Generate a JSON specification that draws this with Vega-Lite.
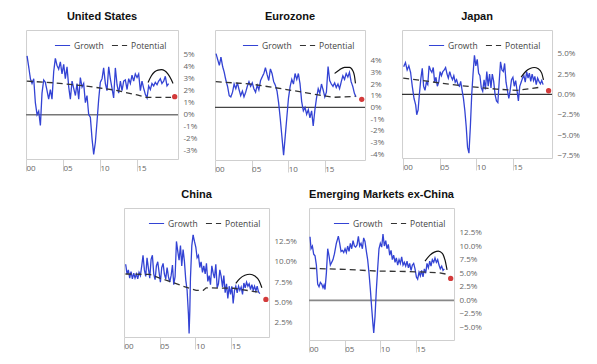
{
"$schema":"https://vega.github.io/schema/vega-lite/v6.json",
"padding":{"left":23,"top":10,"right":0,"bottom":0},
"background":"white",
"datasets":{"d":[
{"p":"US","s":"Growth","t":2000.14,"v":4.9},{"p":"US","s":"Growth","t":2000.36,"v":4.0},{"p":"US","s":"Growth","t":2000.59,"v":3.0},{"p":"US","s":"Growth","t":2000.81,"v":2.6},{"p":"US","s":"Growth","t":2001.04,"v":3.0},{"p":"US","s":"Growth","t":2001.26,"v":1.0},{"p":"US","s":"Growth","t":2001.49,"v":0.0},{"p":"US","s":"Growth","t":2001.71,"v":0.3},{"p":"US","s":"Growth","t":2001.94,"v":-0.9},{"p":"US","s":"Growth","t":2002.16,"v":1.8},{"p":"US","s":"Growth","t":2002.39,"v":2.9},{"p":"US","s":"Growth","t":2002.61,"v":2.7},{"p":"US","s":"Growth","t":2002.84,"v":2.0},{"p":"US","s":"Growth","t":2003.06,"v":1.3},{"p":"US","s":"Growth","t":2003.29,"v":2.1},{"p":"US","s":"Growth","t":2003.51,"v":1.3},{"p":"US","s":"Growth","t":2003.74,"v":3.6},{"p":"US","s":"Growth","t":2003.96,"v":4.7},{"p":"US","s":"Growth","t":2004.19,"v":4.1},{"p":"US","s":"Growth","t":2004.41,"v":3.8},{"p":"US","s":"Growth","t":2004.64,"v":4.4},{"p":"US","s":"Growth","t":2004.86,"v":3.4},{"p":"US","s":"Growth","t":2005.09,"v":4.2},{"p":"US","s":"Growth","t":2005.31,"v":3.0},{"p":"US","s":"Growth","t":2005.54,"v":4.0},{"p":"US","s":"Growth","t":2005.77,"v":2.3},{"p":"US","s":"Growth","t":2005.99,"v":1.3},{"p":"US","s":"Growth","t":2006.22,"v":2.8},{"p":"US","s":"Growth","t":2006.44,"v":2.2},{"p":"US","s":"Growth","t":2006.67,"v":1.6},{"p":"US","s":"Growth","t":2006.89,"v":2.6},{"p":"US","s":"Growth","t":2007.12,"v":1.3},{"p":"US","s":"Growth","t":2007.34,"v":3.1},{"p":"US","s":"Growth","t":2007.57,"v":2.3},{"p":"US","s":"Growth","t":2007.79,"v":2.6},{"p":"US","s":"Growth","t":2008.02,"v":1.0},{"p":"US","s":"Growth","t":2008.24,"v":1.6},{"p":"US","s":"Growth","t":2008.47,"v":0.0},{"p":"US","s":"Growth","t":2008.69,"v":-0.2},{"p":"US","s":"Growth","t":2008.92,"v":-2.0},{"p":"US","s":"Growth","t":2009.14,"v":-3.3},{"p":"US","s":"Growth","t":2009.37,"v":-2.3},{"p":"US","s":"Growth","t":2009.59,"v":-0.6},{"p":"US","s":"Growth","t":2009.82,"v":1.3},{"p":"US","s":"Growth","t":2010.04,"v":2.7},{"p":"US","s":"Growth","t":2010.27,"v":3.0},{"p":"US","s":"Growth","t":2010.49,"v":3.9},{"p":"US","s":"Growth","t":2010.72,"v":2.6},{"p":"US","s":"Growth","t":2010.94,"v":2.0},{"p":"US","s":"Growth","t":2011.17,"v":4.0},{"p":"US","s":"Growth","t":2011.39,"v":3.0},{"p":"US","s":"Growth","t":2011.62,"v":2.2},{"p":"US","s":"Growth","t":2011.84,"v":1.4},{"p":"US","s":"Growth","t":2012.07,"v":3.9},{"p":"US","s":"Growth","t":2012.30,"v":2.5},{"p":"US","s":"Growth","t":2012.52,"v":1.8},{"p":"US","s":"Growth","t":2012.75,"v":2.8},{"p":"US","s":"Growth","t":2012.97,"v":2.0},{"p":"US","s":"Growth","t":2013.20,"v":2.8},{"p":"US","s":"Growth","t":2013.42,"v":2.9},{"p":"US","s":"Growth","t":2013.65,"v":2.1},{"p":"US","s":"Growth","t":2013.87,"v":3.0},{"p":"US","s":"Growth","t":2014.10,"v":2.6},{"p":"US","s":"Growth","t":2014.32,"v":3.3},{"p":"US","s":"Growth","t":2014.55,"v":2.8},{"p":"US","s":"Growth","t":2014.77,"v":3.4},{"p":"US","s":"Growth","t":2015.00,"v":3.1},{"p":"US","s":"Growth","t":2015.22,"v":3.4},{"p":"US","s":"Growth","t":2015.45,"v":2.0},{"p":"US","s":"Growth","t":2015.67,"v":2.8},{"p":"US","s":"Growth","t":2015.90,"v":2.2},{"p":"US","s":"Growth","t":2016.12,"v":1.7},{"p":"US","s":"Growth","t":2016.35,"v":1.4},{"p":"US","s":"Growth","t":2016.57,"v":2.4},{"p":"US","s":"Growth","t":2016.80,"v":2.1},{"p":"US","s":"Growth","t":2017.02,"v":2.6},{"p":"US","s":"Growth","t":2017.25,"v":2.4},{"p":"US","s":"Growth","t":2017.47,"v":2.7},{"p":"US","s":"Growth","t":2017.70,"v":2.5},{"p":"US","s":"Growth","t":2017.92,"v":2.8},{"p":"US","s":"Growth","t":2018.15,"v":3.0},{"p":"US","s":"Growth","t":2018.37,"v":2.6},{"p":"US","s":"Growth","t":2018.60,"v":2.8},{"p":"US","s":"Growth","t":2018.82,"v":3.2},{"p":"US","s":"Growth","t":2019.05,"v":2.4},{"p":"US","s":"Growth","t":2019.27,"v":2.6},
{"p":"US","s":"Potential","t":2000.1,"v":2.8},{"p":"US","s":"Potential","t":2004,"v":2.65},{"p":"US","s":"Potential","t":2008,"v":2.4},{"p":"US","s":"Potential","t":2012,"v":2.05},{"p":"US","s":"Potential","t":2015,"v":1.65},{"p":"US","s":"Potential","t":2016.2,"v":1.45},{"p":"US","s":"Potential","t":2019.6,"v":1.45},
{"p":"US","s":"Arc","t":2016.49,"v":2.69},{"p":"US","s":"Arc","t":2016.94,"v":3.25},{"p":"US","s":"Arc","t":2017.39,"v":3.58},{"p":"US","s":"Arc","t":2017.84,"v":3.72},{"p":"US","s":"Arc","t":2018.29,"v":3.75},{"p":"US","s":"Arc","t":2018.74,"v":3.67},{"p":"US","s":"Arc","t":2019.19,"v":3.39},{"p":"US","s":"Arc","t":2019.64,"v":2.92},{"p":"US","s":"Arc","t":2019.86,"v":2.61},
{"p":"US","s":"Dot","t":2020.09,"v":1.5},
{"p":"US","s":"Zero","t":1999,"v":0},{"p":"US","s":"Zero","t":2021,"v":0},
{"p":"EZ","s":"Growth","t":2000.14,"v":4.6},{"p":"EZ","s":"Growth","t":2000.36,"v":4.1},{"p":"EZ","s":"Growth","t":2000.59,"v":3.6},{"p":"EZ","s":"Growth","t":2000.81,"v":4.3},{"p":"EZ","s":"Growth","t":2001.04,"v":3.5},{"p":"EZ","s":"Growth","t":2001.26,"v":3.0},{"p":"EZ","s":"Growth","t":2001.49,"v":2.3},{"p":"EZ","s":"Growth","t":2001.71,"v":1.8},{"p":"EZ","s":"Growth","t":2001.94,"v":1.0},{"p":"EZ","s":"Growth","t":2002.16,"v":0.9},{"p":"EZ","s":"Growth","t":2002.39,"v":1.3},{"p":"EZ","s":"Growth","t":2002.61,"v":2.0},{"p":"EZ","s":"Growth","t":2002.84,"v":1.6},{"p":"EZ","s":"Growth","t":2003.06,"v":2.1},{"p":"EZ","s":"Growth","t":2003.29,"v":1.5},{"p":"EZ","s":"Growth","t":2003.51,"v":1.0},{"p":"EZ","s":"Growth","t":2003.74,"v":1.4},{"p":"EZ","s":"Growth","t":2003.96,"v":0.9},{"p":"EZ","s":"Growth","t":2004.19,"v":1.3},{"p":"EZ","s":"Growth","t":2004.41,"v":1.8},{"p":"EZ","s":"Growth","t":2004.64,"v":2.2},{"p":"EZ","s":"Growth","t":2004.86,"v":1.8},{"p":"EZ","s":"Growth","t":2005.09,"v":2.1},{"p":"EZ","s":"Growth","t":2005.31,"v":1.6},{"p":"EZ","s":"Growth","t":2005.54,"v":1.3},{"p":"EZ","s":"Growth","t":2005.77,"v":1.9},{"p":"EZ","s":"Growth","t":2005.99,"v":1.5},{"p":"EZ","s":"Growth","t":2006.22,"v":2.3},{"p":"EZ","s":"Growth","t":2006.44,"v":2.6},{"p":"EZ","s":"Growth","t":2006.67,"v":2.9},{"p":"EZ","s":"Growth","t":2006.89,"v":3.4},{"p":"EZ","s":"Growth","t":2007.12,"v":2.8},{"p":"EZ","s":"Growth","t":2007.34,"v":2.3},{"p":"EZ","s":"Growth","t":2007.57,"v":3.3},{"p":"EZ","s":"Growth","t":2007.79,"v":2.9},{"p":"EZ","s":"Growth","t":2008.02,"v":2.2},{"p":"EZ","s":"Growth","t":2008.24,"v":1.9},{"p":"EZ","s":"Growth","t":2008.47,"v":1.4},{"p":"EZ","s":"Growth","t":2008.69,"v":0.4},{"p":"EZ","s":"Growth","t":2008.92,"v":-1.0},{"p":"EZ","s":"Growth","t":2009.14,"v":-2.5},{"p":"EZ","s":"Growth","t":2009.37,"v":-4.1},{"p":"EZ","s":"Growth","t":2009.59,"v":-2.5},{"p":"EZ","s":"Growth","t":2009.82,"v":-0.8},{"p":"EZ","s":"Growth","t":2010.04,"v":0.8},{"p":"EZ","s":"Growth","t":2010.27,"v":1.8},{"p":"EZ","s":"Growth","t":2010.49,"v":2.4},{"p":"EZ","s":"Growth","t":2010.72,"v":2.0},{"p":"EZ","s":"Growth","t":2010.94,"v":2.9},{"p":"EZ","s":"Growth","t":2011.17,"v":2.4},{"p":"EZ","s":"Growth","t":2011.39,"v":2.9},{"p":"EZ","s":"Growth","t":2011.62,"v":2.0},{"p":"EZ","s":"Growth","t":2011.84,"v":0.5},{"p":"EZ","s":"Growth","t":2012.07,"v":-0.3},{"p":"EZ","s":"Growth","t":2012.30,"v":0.0},{"p":"EZ","s":"Growth","t":2012.52,"v":-0.6},{"p":"EZ","s":"Growth","t":2012.75,"v":-0.2},{"p":"EZ","s":"Growth","t":2012.97,"v":-0.9},{"p":"EZ","s":"Growth","t":2013.20,"v":-0.3},{"p":"EZ","s":"Growth","t":2013.42,"v":-1.6},{"p":"EZ","s":"Growth","t":2013.65,"v":-0.2},{"p":"EZ","s":"Growth","t":2013.87,"v":0.8},{"p":"EZ","s":"Growth","t":2014.10,"v":1.6},{"p":"EZ","s":"Growth","t":2014.32,"v":1.2},{"p":"EZ","s":"Growth","t":2014.55,"v":2.0},{"p":"EZ","s":"Growth","t":2014.77,"v":1.5},{"p":"EZ","s":"Growth","t":2015.00,"v":0.9},{"p":"EZ","s":"Growth","t":2015.22,"v":1.3},{"p":"EZ","s":"Growth","t":2015.45,"v":3.5},{"p":"EZ","s":"Growth","t":2015.67,"v":2.3},{"p":"EZ","s":"Growth","t":2015.90,"v":2.0},{"p":"EZ","s":"Growth","t":2016.12,"v":1.8},{"p":"EZ","s":"Growth","t":2016.35,"v":2.1},{"p":"EZ","s":"Growth","t":2016.57,"v":1.7},{"p":"EZ","s":"Growth","t":2016.80,"v":2.0},{"p":"EZ","s":"Growth","t":2017.02,"v":1.6},{"p":"EZ","s":"Growth","t":2017.25,"v":2.2},{"p":"EZ","s":"Growth","t":2017.47,"v":2.7},{"p":"EZ","s":"Growth","t":2017.70,"v":2.4},{"p":"EZ","s":"Growth","t":2017.92,"v":2.9},{"p":"EZ","s":"Growth","t":2018.15,"v":2.6},{"p":"EZ","s":"Growth","t":2018.37,"v":3.0},{"p":"EZ","s":"Growth","t":2018.60,"v":2.2},{"p":"EZ","s":"Growth","t":2018.82,"v":1.8},{"p":"EZ","s":"Growth","t":2019.05,"v":1.2},{"p":"EZ","s":"Growth","t":2019.27,"v":0.9},
{"p":"EZ","s":"Potential","t":2000.1,"v":2.2},{"p":"EZ","s":"Potential","t":2004.9,"v":2.0},{"p":"EZ","s":"Potential","t":2009.4,"v":1.57},{"p":"EZ","s":"Potential","t":2013.9,"v":1.09},{"p":"EZ","s":"Potential","t":2016.1,"v":0.86},{"p":"EZ","s":"Potential","t":2019.2,"v":0.94},
{"p":"EZ","s":"Arc","t":2016.35,"v":2.91},{"p":"EZ","s":"Arc","t":2017.03,"v":3.23},{"p":"EZ","s":"Arc","t":2017.70,"v":3.43},{"p":"EZ","s":"Arc","t":2018.38,"v":3.43},{"p":"EZ","s":"Arc","t":2018.83,"v":3.14},{"p":"EZ","s":"Arc","t":2019.05,"v":2.71},{"p":"EZ","s":"Arc","t":2019.19,"v":2.06},
{"p":"EZ","s":"Dot","t":2020.05,"v":0.69},
{"p":"EZ","s":"Zero","t":1999,"v":0},{"p":"EZ","s":"Zero","t":2021,"v":0},
{"p":"JP","s":"Growth","t":2000.07,"v":3.4},{"p":"JP","s":"Growth","t":2000.31,"v":3.9},{"p":"JP","s":"Growth","t":2000.54,"v":3.0},{"p":"JP","s":"Growth","t":2000.77,"v":3.5},{"p":"JP","s":"Growth","t":2001.01,"v":2.7},{"p":"JP","s":"Growth","t":2001.24,"v":1.0},{"p":"JP","s":"Growth","t":2001.48,"v":-0.5},{"p":"JP","s":"Growth","t":2001.71,"v":-1.3},{"p":"JP","s":"Growth","t":2001.85,"v":-2.5},{"p":"JP","s":"Growth","t":2002.04,"v":-1.9},{"p":"JP","s":"Growth","t":2002.23,"v":0.2},{"p":"JP","s":"Growth","t":2002.42,"v":2.0},{"p":"JP","s":"Growth","t":2002.61,"v":3.2},{"p":"JP","s":"Growth","t":2002.79,"v":1.0},{"p":"JP","s":"Growth","t":2002.98,"v":0.5},{"p":"JP","s":"Growth","t":2003.17,"v":1.5},{"p":"JP","s":"Growth","t":2003.36,"v":1.2},{"p":"JP","s":"Growth","t":2003.54,"v":3.5},{"p":"JP","s":"Growth","t":2003.73,"v":3.0},{"p":"JP","s":"Growth","t":2003.92,"v":2.7},{"p":"JP","s":"Growth","t":2004.11,"v":3.3},{"p":"JP","s":"Growth","t":2004.30,"v":1.5},{"p":"JP","s":"Growth","t":2004.48,"v":2.1},{"p":"JP","s":"Growth","t":2004.67,"v":1.0},{"p":"JP","s":"Growth","t":2004.86,"v":1.5},{"p":"JP","s":"Growth","t":2005.05,"v":2.8},{"p":"JP","s":"Growth","t":2005.23,"v":2.3},{"p":"JP","s":"Growth","t":2005.42,"v":2.8},{"p":"JP","s":"Growth","t":2005.61,"v":3.0},{"p":"JP","s":"Growth","t":2005.80,"v":3.3},{"p":"JP","s":"Growth","t":2005.99,"v":2.5},{"p":"JP","s":"Growth","t":2006.17,"v":2.0},{"p":"JP","s":"Growth","t":2006.36,"v":2.8},{"p":"JP","s":"Growth","t":2006.55,"v":2.2},{"p":"JP","s":"Growth","t":2006.74,"v":1.8},{"p":"JP","s":"Growth","t":2006.92,"v":2.3},{"p":"JP","s":"Growth","t":2007.11,"v":1.5},{"p":"JP","s":"Growth","t":2007.30,"v":1.8},{"p":"JP","s":"Growth","t":2007.49,"v":1.2},{"p":"JP","s":"Growth","t":2007.68,"v":1.0},{"p":"JP","s":"Growth","t":2007.86,"v":1.6},{"p":"JP","s":"Growth","t":2008.05,"v":0.5},{"p":"JP","s":"Growth","t":2008.24,"v":-0.5},{"p":"JP","s":"Growth","t":2008.43,"v":-2.0},{"p":"JP","s":"Growth","t":2008.62,"v":-4.0},{"p":"JP","s":"Growth","t":2008.80,"v":-6.5},{"p":"JP","s":"Growth","t":2008.99,"v":-7.2},{"p":"JP","s":"Growth","t":2009.18,"v":-4.0},{"p":"JP","s":"Growth","t":2009.37,"v":0.0},{"p":"JP","s":"Growth","t":2009.55,"v":2.5},{"p":"JP","s":"Growth","t":2009.74,"v":4.8},{"p":"JP","s":"Growth","t":2009.93,"v":3.5},{"p":"JP","s":"Growth","t":2010.12,"v":4.3},{"p":"JP","s":"Growth","t":2010.31,"v":2.6},{"p":"JP","s":"Growth","t":2010.49,"v":2.3},{"p":"JP","s":"Growth","t":2010.68,"v":0.8},{"p":"JP","s":"Growth","t":2010.87,"v":0.4},{"p":"JP","s":"Growth","t":2011.06,"v":1.8},{"p":"JP","s":"Growth","t":2011.24,"v":0.6},{"p":"JP","s":"Growth","t":2011.43,"v":2.8},{"p":"JP","s":"Growth","t":2011.62,"v":1.0},{"p":"JP","s":"Growth","t":2011.81,"v":2.5},{"p":"JP","s":"Growth","t":2012.00,"v":0.8},{"p":"JP","s":"Growth","t":2012.18,"v":2.5},{"p":"JP","s":"Growth","t":2012.37,"v":1.6},{"p":"JP","s":"Growth","t":2012.56,"v":0.0},{"p":"JP","s":"Growth","t":2012.75,"v":-0.8},{"p":"JP","s":"Growth","t":2012.94,"v":-1.0},{"p":"JP","s":"Growth","t":2013.12,"v":1.5},{"p":"JP","s":"Growth","t":2013.31,"v":4.0},{"p":"JP","s":"Growth","t":2013.50,"v":3.0},{"p":"JP","s":"Growth","t":2013.69,"v":2.8},{"p":"JP","s":"Growth","t":2013.87,"v":3.8},{"p":"JP","s":"Growth","t":2014.06,"v":1.5},{"p":"JP","s":"Growth","t":2014.25,"v":0.5},{"p":"JP","s":"Growth","t":2014.44,"v":-0.5},{"p":"JP","s":"Growth","t":2014.62,"v":0.5},{"p":"JP","s":"Growth","t":2014.81,"v":1.8},{"p":"JP","s":"Growth","t":2015.00,"v":2.1},{"p":"JP","s":"Growth","t":2015.19,"v":1.0},{"p":"JP","s":"Growth","t":2015.38,"v":1.7},{"p":"JP","s":"Growth","t":2015.56,"v":0.5},{"p":"JP","s":"Growth","t":2015.75,"v":-0.8},{"p":"JP","s":"Growth","t":2015.94,"v":1.0},{"p":"JP","s":"Growth","t":2016.13,"v":1.5},{"p":"JP","s":"Growth","t":2016.32,"v":2.0},{"p":"JP","s":"Growth","t":2016.50,"v":2.3},{"p":"JP","s":"Growth","t":2016.69,"v":1.5},{"p":"JP","s":"Growth","t":2016.88,"v":2.8},{"p":"JP","s":"Growth","t":2017.07,"v":2.0},{"p":"JP","s":"Growth","t":2017.25,"v":2.6},{"p":"JP","s":"Growth","t":2017.44,"v":1.6},{"p":"JP","s":"Growth","t":2017.63,"v":2.5},{"p":"JP","s":"Growth","t":2017.82,"v":1.7},{"p":"JP","s":"Growth","t":2018.00,"v":2.2},{"p":"JP","s":"Growth","t":2018.19,"v":1.2},{"p":"JP","s":"Growth","t":2018.38,"v":2.0},{"p":"JP","s":"Growth","t":2018.57,"v":1.6},{"p":"JP","s":"Growth","t":2018.76,"v":1.3},{"p":"JP","s":"Growth","t":2018.94,"v":1.7},{"p":"JP","s":"Growth","t":2019.13,"v":1.2},
{"p":"JP","s":"Potential","t":2000.0,"v":2.0},{"p":"JP","s":"Potential","t":2008.0,"v":1.06},{"p":"JP","s":"Potential","t":2012.75,"v":0.65},{"p":"JP","s":"Potential","t":2015.6,"v":0.49},{"p":"JP","s":"Potential","t":2018.9,"v":0.9},
{"p":"JP","s":"Arc","t":2016.13,"v":2.12},{"p":"JP","s":"Arc","t":2016.74,"v":2.81},{"p":"JP","s":"Arc","t":2017.35,"v":3.18},{"p":"JP","s":"Arc","t":2017.91,"v":3.30},{"p":"JP","s":"Arc","t":2018.47,"v":3.14},{"p":"JP","s":"Arc","t":2018.94,"v":2.61},{"p":"JP","s":"Arc","t":2019.18,"v":1.79},
{"p":"JP","s":"Dot","t":2019.88,"v":0.45},
{"p":"JP","s":"Zero","t":1999,"v":0},{"p":"JP","s":"Zero","t":2021,"v":0},
{"p":"CN","s":"Growth","t":2000.23,"v":9.7},{"p":"CN","s":"Growth","t":2000.42,"v":8.5},{"p":"CN","s":"Growth","t":2000.61,"v":9.0},{"p":"CN","s":"Growth","t":2000.79,"v":8.0},{"p":"CN","s":"Growth","t":2000.98,"v":8.8},{"p":"CN","s":"Growth","t":2001.17,"v":7.9},{"p":"CN","s":"Growth","t":2001.36,"v":8.6},{"p":"CN","s":"Growth","t":2001.54,"v":8.0},{"p":"CN","s":"Growth","t":2001.73,"v":8.5},{"p":"CN","s":"Growth","t":2001.92,"v":7.9},{"p":"CN","s":"Growth","t":2002.10,"v":8.7},{"p":"CN","s":"Growth","t":2002.29,"v":8.3},{"p":"CN","s":"Growth","t":2002.48,"v":9.5},{"p":"CN","s":"Growth","t":2002.66,"v":10.8},{"p":"CN","s":"Growth","t":2002.85,"v":9.0},{"p":"CN","s":"Growth","t":2003.04,"v":8.2},{"p":"CN","s":"Growth","t":2003.22,"v":10.5},{"p":"CN","s":"Growth","t":2003.41,"v":9.2},{"p":"CN","s":"Growth","t":2003.60,"v":8.0},{"p":"CN","s":"Growth","t":2003.79,"v":10.3},{"p":"CN","s":"Growth","t":2003.97,"v":10.8},{"p":"CN","s":"Growth","t":2004.16,"v":8.5},{"p":"CN","s":"Growth","t":2004.35,"v":7.8},{"p":"CN","s":"Growth","t":2004.53,"v":9.5},{"p":"CN","s":"Growth","t":2004.72,"v":10.0},{"p":"CN","s":"Growth","t":2004.91,"v":8.7},{"p":"CN","s":"Growth","t":2005.09,"v":7.5},{"p":"CN","s":"Growth","t":2005.28,"v":9.3},{"p":"CN","s":"Growth","t":2005.47,"v":9.8},{"p":"CN","s":"Growth","t":2005.65,"v":8.5},{"p":"CN","s":"Growth","t":2005.84,"v":7.9},{"p":"CN","s":"Growth","t":2006.03,"v":9.3},{"p":"CN","s":"Growth","t":2006.21,"v":8.2},{"p":"CN","s":"Growth","t":2006.40,"v":7.5},{"p":"CN","s":"Growth","t":2006.59,"v":8.3},{"p":"CN","s":"Growth","t":2006.78,"v":9.6},{"p":"CN","s":"Growth","t":2006.96,"v":7.2},{"p":"CN","s":"Growth","t":2007.15,"v":8.2},{"p":"CN","s":"Growth","t":2007.34,"v":12.5},{"p":"CN","s":"Growth","t":2007.52,"v":11.3},{"p":"CN","s":"Growth","t":2007.71,"v":10.2},{"p":"CN","s":"Growth","t":2007.90,"v":12.0},{"p":"CN","s":"Growth","t":2008.08,"v":9.5},{"p":"CN","s":"Growth","t":2008.27,"v":11.5},{"p":"CN","s":"Growth","t":2008.46,"v":10.0},{"p":"CN","s":"Growth","t":2008.64,"v":7.8},{"p":"CN","s":"Growth","t":2008.83,"v":6.5},{"p":"CN","s":"Growth","t":2009.02,"v":3.5},{"p":"CN","s":"Growth","t":2009.11,"v":1.2},{"p":"CN","s":"Growth","t":2009.21,"v":4.0},{"p":"CN","s":"Growth","t":2009.30,"v":8.0},{"p":"CN","s":"Growth","t":2009.49,"v":12.0},{"p":"CN","s":"Growth","t":2009.67,"v":13.3},{"p":"CN","s":"Growth","t":2009.86,"v":12.5},{"p":"CN","s":"Growth","t":2010.05,"v":11.8},{"p":"CN","s":"Growth","t":2010.23,"v":10.5},{"p":"CN","s":"Growth","t":2010.42,"v":10.8},{"p":"CN","s":"Growth","t":2010.61,"v":9.3},{"p":"CN","s":"Growth","t":2010.79,"v":10.0},{"p":"CN","s":"Growth","t":2010.98,"v":8.7},{"p":"CN","s":"Growth","t":2011.17,"v":9.5},{"p":"CN","s":"Growth","t":2011.36,"v":8.5},{"p":"CN","s":"Growth","t":2011.54,"v":9.8},{"p":"CN","s":"Growth","t":2011.73,"v":7.6},{"p":"CN","s":"Growth","t":2011.92,"v":8.3},{"p":"CN","s":"Growth","t":2012.10,"v":7.2},{"p":"CN","s":"Growth","t":2012.29,"v":9.5},{"p":"CN","s":"Growth","t":2012.48,"v":8.6},{"p":"CN","s":"Growth","t":2012.66,"v":8.0},{"p":"CN","s":"Growth","t":2012.85,"v":9.7},{"p":"CN","s":"Growth","t":2013.04,"v":6.8},{"p":"CN","s":"Growth","t":2013.22,"v":7.3},{"p":"CN","s":"Growth","t":2013.41,"v":9.0},{"p":"CN","s":"Growth","t":2013.60,"v":8.2},{"p":"CN","s":"Growth","t":2013.79,"v":6.9},{"p":"CN","s":"Growth","t":2013.97,"v":8.3},{"p":"CN","s":"Growth","t":2014.16,"v":6.2},{"p":"CN","s":"Growth","t":2014.35,"v":7.3},{"p":"CN","s":"Growth","t":2014.53,"v":5.5},{"p":"CN","s":"Growth","t":2014.72,"v":7.0},{"p":"CN","s":"Growth","t":2014.91,"v":6.0},{"p":"CN","s":"Growth","t":2015.09,"v":7.0},{"p":"CN","s":"Growth","t":2015.28,"v":4.9},{"p":"CN","s":"Growth","t":2015.47,"v":6.5},{"p":"CN","s":"Growth","t":2015.65,"v":7.0},{"p":"CN","s":"Growth","t":2015.84,"v":6.2},{"p":"CN","s":"Growth","t":2016.03,"v":7.0},{"p":"CN","s":"Growth","t":2016.21,"v":6.5},{"p":"CN","s":"Growth","t":2016.40,"v":6.9},{"p":"CN","s":"Growth","t":2016.59,"v":6.0},{"p":"CN","s":"Growth","t":2016.78,"v":7.4},{"p":"CN","s":"Growth","t":2016.96,"v":6.8},{"p":"CN","s":"Growth","t":2017.15,"v":7.5},{"p":"CN","s":"Growth","t":2017.34,"v":7.0},{"p":"CN","s":"Growth","t":2017.52,"v":7.3},{"p":"CN","s":"Growth","t":2017.71,"v":6.6},{"p":"CN","s":"Growth","t":2017.90,"v":7.2},{"p":"CN","s":"Growth","t":2018.08,"v":6.5},{"p":"CN","s":"Growth","t":2018.27,"v":7.0},{"p":"CN","s":"Growth","t":2018.46,"v":6.4},{"p":"CN","s":"Growth","t":2018.64,"v":7.0},{"p":"CN","s":"Growth","t":2018.83,"v":6.3},{"p":"CN","s":"Growth","t":2019.02,"v":6.1},
{"p":"CN","s":"Potential","t":2000.2,"v":8.5},{"p":"CN","s":"Potential","t":2003.6,"v":8.45},{"p":"CN","s":"Potential","t":2005.0,"v":8.0},{"p":"CN","s":"Potential","t":2006.9,"v":7.45},{"p":"CN","s":"Potential","t":2008.3,"v":7.0},{"p":"CN","s":"Potential","t":2010.1,"v":6.5},{"p":"CN","s":"Potential","t":2011.1,"v":6.5},{"p":"CN","s":"Potential","t":2011.5,"v":6.8},{"p":"CN","s":"Potential","t":2015.3,"v":6.75},{"p":"CN","s":"Potential","t":2018.6,"v":6.3},{"p":"CN","s":"Potential","t":2019.1,"v":6.2},
{"p":"CN","s":"Arc","t":2015.65,"v":7.36},{"p":"CN","s":"Arc","t":2016.21,"v":7.93},{"p":"CN","s":"Arc","t":2016.92,"v":8.34},{"p":"CN","s":"Arc","t":2017.62,"v":8.47},{"p":"CN","s":"Arc","t":2018.32,"v":8.26},{"p":"CN","s":"Arc","t":2018.93,"v":7.64},{"p":"CN","s":"Arc","t":2019.30,"v":6.82},
{"p":"CN","s":"Dot","t":2019.86,"v":5.38},
{"p":"EM","s":"Growth","t":2000.14,"v":11.7},{"p":"EM","s":"Growth","t":2000.28,"v":9.5},{"p":"EM","s":"Growth","t":2000.47,"v":10.0},{"p":"EM","s":"Growth","t":2000.65,"v":8.5},{"p":"EM","s":"Growth","t":2000.84,"v":8.2},{"p":"EM","s":"Growth","t":2001.03,"v":6.5},{"p":"EM","s":"Growth","t":2001.21,"v":3.0},{"p":"EM","s":"Growth","t":2001.40,"v":2.5},{"p":"EM","s":"Growth","t":2001.59,"v":3.3},{"p":"EM","s":"Growth","t":2001.78,"v":3.0},{"p":"EM","s":"Growth","t":2001.96,"v":2.3},{"p":"EM","s":"Growth","t":2002.10,"v":2.8},{"p":"EM","s":"Growth","t":2002.24,"v":2.0},{"p":"EM","s":"Growth","t":2002.43,"v":5.0},{"p":"EM","s":"Growth","t":2002.62,"v":9.5},{"p":"EM","s":"Growth","t":2002.80,"v":8.2},{"p":"EM","s":"Growth","t":2002.99,"v":6.5},{"p":"EM","s":"Growth","t":2003.18,"v":7.0},{"p":"EM","s":"Growth","t":2003.36,"v":7.5},{"p":"EM","s":"Growth","t":2003.55,"v":8.5},{"p":"EM","s":"Growth","t":2003.83,"v":10.5},{"p":"EM","s":"Growth","t":2004.11,"v":11.8},{"p":"EM","s":"Growth","t":2004.30,"v":10.5},{"p":"EM","s":"Growth","t":2004.49,"v":9.0},{"p":"EM","s":"Growth","t":2004.67,"v":9.2},{"p":"EM","s":"Growth","t":2004.86,"v":8.8},{"p":"EM","s":"Growth","t":2005.05,"v":9.5},{"p":"EM","s":"Growth","t":2005.23,"v":8.8},{"p":"EM","s":"Growth","t":2005.42,"v":10.0},{"p":"EM","s":"Growth","t":2005.61,"v":9.0},{"p":"EM","s":"Growth","t":2005.79,"v":10.5},{"p":"EM","s":"Growth","t":2005.98,"v":9.5},{"p":"EM","s":"Growth","t":2006.17,"v":11.0},{"p":"EM","s":"Growth","t":2006.36,"v":10.0},{"p":"EM","s":"Growth","t":2006.54,"v":9.8},{"p":"EM","s":"Growth","t":2006.73,"v":10.2},{"p":"EM","s":"Growth","t":2006.92,"v":11.8},{"p":"EM","s":"Growth","t":2007.10,"v":10.0},{"p":"EM","s":"Growth","t":2007.29,"v":10.5},{"p":"EM","s":"Growth","t":2007.48,"v":9.5},{"p":"EM","s":"Growth","t":2007.66,"v":11.5},{"p":"EM","s":"Growth","t":2007.85,"v":10.8},{"p":"EM","s":"Growth","t":2008.04,"v":9.0},{"p":"EM","s":"Growth","t":2008.22,"v":7.5},{"p":"EM","s":"Growth","t":2008.41,"v":5.0},{"p":"EM","s":"Growth","t":2008.60,"v":2.0},{"p":"EM","s":"Growth","t":2008.79,"v":-1.5},{"p":"EM","s":"Growth","t":2008.97,"v":-4.5},{"p":"EM","s":"Growth","t":2009.07,"v":-6.0},{"p":"EM","s":"Growth","t":2009.25,"v":-3.0},{"p":"EM","s":"Growth","t":2009.44,"v":2.0},{"p":"EM","s":"Growth","t":2009.63,"v":6.0},{"p":"EM","s":"Growth","t":2009.81,"v":9.5},{"p":"EM","s":"Growth","t":2010.00,"v":10.5},{"p":"EM","s":"Growth","t":2010.19,"v":9.8},{"p":"EM","s":"Growth","t":2010.37,"v":12.2},{"p":"EM","s":"Growth","t":2010.56,"v":10.0},{"p":"EM","s":"Growth","t":2010.75,"v":11.0},{"p":"EM","s":"Growth","t":2010.93,"v":9.5},{"p":"EM","s":"Growth","t":2011.12,"v":10.3},{"p":"EM","s":"Growth","t":2011.31,"v":8.3},{"p":"EM","s":"Growth","t":2011.50,"v":9.2},{"p":"EM","s":"Growth","t":2011.68,"v":7.5},{"p":"EM","s":"Growth","t":2011.87,"v":8.3},{"p":"EM","s":"Growth","t":2012.06,"v":7.0},{"p":"EM","s":"Growth","t":2012.24,"v":7.8},{"p":"EM","s":"Growth","t":2012.43,"v":6.5},{"p":"EM","s":"Growth","t":2012.62,"v":7.5},{"p":"EM","s":"Growth","t":2012.80,"v":6.8},{"p":"EM","s":"Growth","t":2012.99,"v":8.0},{"p":"EM","s":"Growth","t":2013.18,"v":6.5},{"p":"EM","s":"Growth","t":2013.36,"v":7.0},{"p":"EM","s":"Growth","t":2013.55,"v":6.3},{"p":"EM","s":"Growth","t":2013.74,"v":7.2},{"p":"EM","s":"Growth","t":2013.93,"v":6.0},{"p":"EM","s":"Growth","t":2014.11,"v":6.8},{"p":"EM","s":"Growth","t":2014.30,"v":5.5},{"p":"EM","s":"Growth","t":2014.49,"v":6.5},{"p":"EM","s":"Growth","t":2014.67,"v":6.8},{"p":"EM","s":"Growth","t":2014.86,"v":5.8},{"p":"EM","s":"Growth","t":2015.05,"v":4.3},{"p":"EM","s":"Growth","t":2015.23,"v":3.9},{"p":"EM","s":"Growth","t":2015.42,"v":5.2},{"p":"EM","s":"Growth","t":2015.61,"v":4.5},{"p":"EM","s":"Growth","t":2015.79,"v":5.5},{"p":"EM","s":"Growth","t":2015.98,"v":4.3},{"p":"EM","s":"Growth","t":2016.17,"v":5.8},{"p":"EM","s":"Growth","t":2016.36,"v":5.0},{"p":"EM","s":"Growth","t":2016.54,"v":6.8},{"p":"EM","s":"Growth","t":2016.73,"v":6.0},{"p":"EM","s":"Growth","t":2016.92,"v":7.2},{"p":"EM","s":"Growth","t":2017.10,"v":6.3},{"p":"EM","s":"Growth","t":2017.29,"v":7.5},{"p":"EM","s":"Growth","t":2017.48,"v":7.0},{"p":"EM","s":"Growth","t":2017.66,"v":7.8},{"p":"EM","s":"Growth","t":2017.85,"v":7.0},{"p":"EM","s":"Growth","t":2018.04,"v":7.5},{"p":"EM","s":"Growth","t":2018.22,"v":6.5},{"p":"EM","s":"Growth","t":2018.41,"v":5.8},{"p":"EM","s":"Growth","t":2018.60,"v":6.3},{"p":"EM","s":"Growth","t":2018.79,"v":5.5},{"p":"EM","s":"Growth","t":2018.97,"v":5.8},
{"p":"EM","s":"Potential","t":2000.1,"v":5.9},{"p":"EM","s":"Potential","t":2005.0,"v":5.7},{"p":"EM","s":"Potential","t":2009.3,"v":5.4},{"p":"EM","s":"Potential","t":2014.0,"v":5.3},{"p":"EM","s":"Potential","t":2018.1,"v":5.1},{"p":"EM","s":"Potential","t":2019.35,"v":4.8},
{"p":"EM","s":"Arc","t":2016.26,"v":7.22},{"p":"EM","s":"Arc","t":2016.96,"v":8.32},{"p":"EM","s":"Arc","t":2017.57,"v":8.87},{"p":"EM","s":"Arc","t":2018.13,"v":9.06},{"p":"EM","s":"Arc","t":2018.69,"v":8.63},{"p":"EM","s":"Arc","t":2019.07,"v":7.41},{"p":"EM","s":"Arc","t":2019.35,"v":5.6},
{"p":"EM","s":"Dot","t":2019.86,"v":4.04},
{"p":"EM","s":"Zero","t":1999,"v":0},{"p":"EM","s":"Zero","t":2021,"v":0}
]},
"data":{"name":"d"},
"spacing":14,
"center":true,
"resolve":{"scale":{"x":"independent","y":"independent","color":"independent","strokeDash":"independent"},"axis":{"x":"independent","y":"independent"},"legend":{"color":"independent","strokeDash":"independent"}},
"vconcat":[
{"hconcat":[
{"width":152,"height":129,"title":"United States","transform":[{"filter":"datum.p==='US'"}],
"encoding":{"x":{"field":"t","type":"quantitative","scale":{"domain":[2000,2020.54],"nice":false,"zero":false},"axis":{"values":[2000,2005,2010,2015],"labelExpr":"slice(toString(datum.value),2)"}},
"y":{"field":"v","type":"quantitative","scale":{"domain":[-3.69,7.06],"nice":false,"zero":false},"axis":{"orient":"right","values":[-3,-2,-1,0,1,2,3,4,5],"labelExpr":"datum.value + '%'"}}},
"layer":[
{"transform":[{"filter":"datum.s==='Zero'"}],"mark":{"type":"line","color":"#777","strokeWidth":1.6,"clip":true}},
{"transform":[{"filter":"datum.s==='Growth'||datum.s==='Potential'"}],"mark":{"type":"line","strokeWidth":1.3},
"encoding":{"color":{"field":"s","type":"nominal","scale":{"domain":["Growth","Potential"],"range":["#3343d4","#333333"]},"legend":{"orient":"none","legendX":28,"legendY":7,"direction":"horizontal","title":null}},
"strokeDash":{"field":"s","type":"nominal","scale":{"domain":["Growth","Potential"],"range":[[1,0],[6,4]]},"legend":{"orient":"none","legendX":28,"legendY":7,"direction":"horizontal","title":null}}}},
{"transform":[{"filter":"datum.s==='Arc'"}],"mark":{"type":"line","color":"#111","strokeWidth":1.2,"interpolate":"monotone"}},
{"transform":[{"filter":"datum.s==='Dot'"}],"mark":{"type":"point","filled":true,"color":"#d33a3a","size":28,"opacity":1}}
]},
{"width":150,"height":130,"title":"Eurozone","transform":[{"filter":"datum.p==='EZ'"}],
"encoding":{"x":{"field":"t","type":"quantitative","scale":{"domain":[2000,2020.5],"nice":false,"zero":false},"axis":{"values":[2000,2005,2010,2015],"labelExpr":"slice(toString(datum.value),2)"}},
"y":{"field":"v","type":"quantitative","scale":{"domain":[-4.51,6.63],"nice":false,"zero":false},"axis":{"orient":"right","values":[-4,-3,-2,-1,0,1,2,3,4],"labelExpr":"datum.value + '%'"}}},
"layer":[
{"transform":[{"filter":"datum.s==='Zero'"}],"mark":{"type":"line","color":"#444","strokeWidth":1.3,"clip":true}},
{"transform":[{"filter":"datum.s==='Growth'||datum.s==='Potential'"}],"mark":{"type":"line","strokeWidth":1.3},
"encoding":{"color":{"field":"s","type":"nominal","scale":{"domain":["Growth","Potential"],"range":["#3343d4","#333333"]},"legend":{"orient":"none","legendX":27,"legendY":7,"direction":"horizontal","title":null}},
"strokeDash":{"field":"s","type":"nominal","scale":{"domain":["Growth","Potential"],"range":[[1,0],[6,4]]},"legend":{"orient":"none","legendX":27,"legendY":7,"direction":"horizontal","title":null}}}},
{"transform":[{"filter":"datum.s==='Arc'"}],"mark":{"type":"line","color":"#111","strokeWidth":1.2,"interpolate":"monotone"}},
{"transform":[{"filter":"datum.s==='Dot'"}],"mark":{"type":"point","filled":true,"color":"#d33a3a","size":28,"opacity":1}}
]},
{"width":150,"height":128,"title":"Japan","transform":[{"filter":"datum.p==='JP'"}],
"encoding":{"x":{"field":"t","type":"quantitative","scale":{"domain":[1999.84,2020.35],"nice":false,"zero":false},"axis":{"values":[2000,2005,2010,2015],"labelExpr":"slice(toString(datum.value),2)"}},
"y":{"field":"v","type":"quantitative","scale":{"domain":[-7.8,7.9],"nice":false,"zero":false},"axis":{"orient":"right","values":[-7.5,-5,-2.5,0,2.5,5],"labelExpr":"format(datum.value,'.1f') + '%'"}}},
"layer":[
{"transform":[{"filter":"datum.s==='Zero'"}],"mark":{"type":"line","color":"#333","strokeWidth":1.2,"clip":true}},
{"transform":[{"filter":"datum.s==='Growth'||datum.s==='Potential'"}],"mark":{"type":"line","strokeWidth":1.3},
"encoding":{"color":{"field":"s","type":"nominal","scale":{"domain":["Growth","Potential"],"range":["#3343d4","#333333"]},"legend":{"orient":"none","legendX":26,"legendY":7,"direction":"horizontal","title":null}},
"strokeDash":{"field":"s","type":"nominal","scale":{"domain":["Growth","Potential"],"range":[[1,0],[6,4]]},"legend":{"orient":"none","legendX":26,"legendY":7,"direction":"horizontal","title":null}}}},
{"transform":[{"filter":"datum.s==='Arc'"}],"mark":{"type":"line","color":"#111","strokeWidth":1.2,"interpolate":"monotone"}},
{"transform":[{"filter":"datum.s==='Dot'"}],"mark":{"type":"point","filled":true,"color":"#d33a3a","size":28,"opacity":1}}
]}
],"spacing":37,"bounds":"flush",
"resolve":{"scale":{"x":"independent","y":"independent","color":"independent","strokeDash":"independent"},"axis":{"x":"independent","y":"independent"},"legend":{"color":"independent","strokeDash":"independent"}}},
{"hconcat":[
{"width":145,"height":129,"title":"China","transform":[{"filter":"datum.p==='CN'"}],
"encoding":{"x":{"field":"t","type":"quantitative","scale":{"domain":[2000,2020.3],"nice":false,"zero":false},"axis":{"values":[2000,2005,2010,2015],"labelExpr":"slice(toString(datum.value),2)"}},
"y":{"field":"v","type":"quantitative","scale":{"domain":[0.77,16.6],"nice":false,"zero":false},"axis":{"orient":"right","values":[2.5,5,7.5,10,12.5],"labelExpr":"format(datum.value,'.1f') + '%'"}}},
"layer":[
{"transform":[{"filter":"datum.s==='Growth'||datum.s==='Potential'"}],"mark":{"type":"line","strokeWidth":1.3},
"encoding":{"color":{"field":"s","type":"nominal","scale":{"domain":["Growth","Potential"],"range":["#3343d4","#333333"]},"legend":{"orient":"none","legendX":24,"legendY":7,"direction":"horizontal","title":null}},
"strokeDash":{"field":"s","type":"nominal","scale":{"domain":["Growth","Potential"],"range":[[1,0],[6,4]]},"legend":{"orient":"none","legendX":24,"legendY":7,"direction":"horizontal","title":null}}}},
{"transform":[{"filter":"datum.s==='Arc'"}],"mark":{"type":"line","color":"#111","strokeWidth":1.2,"interpolate":"monotone"}},
{"transform":[{"filter":"datum.s==='Dot'"}],"mark":{"type":"point","filled":true,"color":"#d33a3a","size":28,"opacity":1}}
]},
{"width":145,"height":132,"title":"Emerging Markets ex-China","transform":[{"filter":"datum.p==='EM'"}],
"encoding":{"x":{"field":"t","type":"quantitative","scale":{"domain":[2000,2020.33],"nice":false,"zero":false},"axis":{"values":[2000,2005,2010,2015],"labelExpr":"slice(toString(datum.value),2)"}},
"y":{"field":"v","type":"quantitative","scale":{"domain":[-7.3,17.0],"nice":false,"zero":false},"axis":{"orient":"right","values":[-5,-2.5,0,2.5,5,7.5,10,12.5],"labelExpr":"format(datum.value,'.1f') + '%'"}}},
"layer":[
{"transform":[{"filter":"datum.s==='Zero'"}],"mark":{"type":"line","color":"#888","strokeWidth":1.6,"clip":true}},
{"transform":[{"filter":"datum.s==='Growth'||datum.s==='Potential'"}],"mark":{"type":"line","strokeWidth":1.3},
"encoding":{"color":{"field":"s","type":"nominal","scale":{"domain":["Growth","Potential"],"range":["#3343d4","#333333"]},"legend":{"orient":"none","legendX":24,"legendY":7,"direction":"horizontal","title":null}},
"strokeDash":{"field":"s","type":"nominal","scale":{"domain":["Growth","Potential"],"range":[[1,0],[6,4]]},"legend":{"orient":"none","legendX":24,"legendY":7,"direction":"horizontal","title":null}}}},
{"transform":[{"filter":"datum.s==='Arc'"}],"mark":{"type":"line","color":"#111","strokeWidth":1.2,"interpolate":"monotone"}},
{"transform":[{"filter":"datum.s==='Dot'"}],"mark":{"type":"point","filled":true,"color":"#d33a3a","size":28,"opacity":1}}
]}
],"spacing":40,"bounds":"flush",
"resolve":{"scale":{"x":"independent","y":"independent","color":"independent","strokeDash":"independent"},"axis":{"x":"independent","y":"independent"},"legend":{"color":"independent","strokeDash":"independent"}}}
],
"config":{
"view":{"stroke":"#cfcfcf","strokeWidth":1},
"title":{"font":"Liberation Sans","fontSize":11,"fontWeight":"bold","color":"#111","offset":8},
"axis":{"labelFont":"Open Sans","labelFontSize":8,"labelColor":"#666","domain":false,"grid":false,"title":null},
"axisX":{"tickSize":12,"tickColor":"#d0d0d0","labelAlign":"left","labelPadding":-7,"labelDx":3},
"axisY":{"ticks":false,"labelPadding":5,"labelBaseline":"middle"},
"legend":{"symbolType":"stroke","symbolSize":230,"symbolStrokeWidth":1.2,"labelFont":"Open Sans","labelFontSize":8.5,"labelColor":"#444","columnPadding":5,"labelOffset":3,"padding":0}
}
}
